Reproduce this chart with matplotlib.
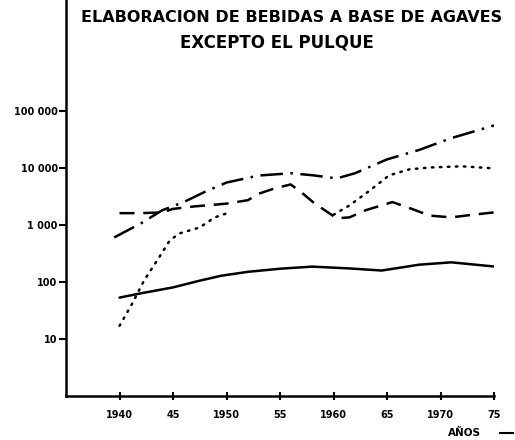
import numpy as np
import matplotlib
matplotlib.use("Agg")
import matplotlib.pyplot as plt

# ---- data ----
title_l1 = "ELABORACION DE BEBIDAS A BASE DE AGAVES"
title_l2 = "EXCEPTO EL PULQUE"
xlabel = "AÑOS"

x_ticks = [1940, 1945, 1950, 1955, 1960, 1965, 1970, 1975]
x_ticklabels = ["1940", "45", "1950", "55", "1960", "65", "1970", "75"]
y_ticks = [10, 100, 1000, 10000, 100000]
y_ticklabels = ["10", "100", "1 000", "10 000", "100 000"]

solid_years = [1940, 1942, 1945, 1947.5, 1949.5, 1952, 1955, 1958, 1961.5, 1964.5, 1968, 1971, 1975]
solid_vals = [53, 63, 80, 105, 128, 150, 170, 185, 172, 158, 200, 220, 186]

dashdot_years = [1939.5, 1942, 1944, 1946, 1948, 1950, 1953, 1956, 1958, 1960.3, 1962, 1965, 1968, 1971, 1975]
dashdot_vals = [600, 1060, 1800, 2500, 3800, 5500, 7300, 8000, 7400, 6500, 8000, 14000, 20500, 33000, 55000]

dashed_years = [1940, 1942, 1944, 1945, 1947, 1950, 1952, 1953, 1954.5, 1956, 1957, 1958.2, 1960.3, 1961.5, 1963, 1965.5, 1967, 1969, 1971, 1973, 1975]
dashed_vals = [1600, 1600, 1650, 1900, 2100, 2350, 2700, 3500, 4350, 5100, 3700, 2400, 1300, 1350, 1800, 2500, 2000, 1450, 1350, 1500, 1650]

dotted_years = [1940, 1941.2, 1942.3, 1943.7, 1944.7, 1945.6, 1947.5, 1948.9, 1950.3, 1955, 1960, 1961.5, 1963.4, 1965.2, 1967.1, 1969, 1972, 1975]
dotted_vals = [17, 42, 106, 268, 533, 706, 900, 1350, 1650, np.nan, 1500, 2190, 4000, 7360, 9380, 10100, 10600, 9750]

# ---- figure ----
fig = plt.figure(figsize=(5.15, 4.4), dpi=100)
ax = fig.add_axes([66/515, 1 - 396/440, (494 - 66)/515, 396/440])

lw = 1.8
ax.plot(solid_years, solid_vals, color="black", lw=lw, solid_capstyle="round")
ax.plot(dashdot_years, dashdot_vals, color="black", lw=lw, linestyle=(0, (9, 3, 1, 3)))
ax.plot(dashed_years, dashed_vals, color="black", lw=lw, linestyle=(0, (6, 3.5)))
ax.plot(dotted_years, dotted_vals, color="black", lw=lw, linestyle=(0, (0.6, 2.6)),
        dash_capstyle="round")

ax.set_yscale("log")
ax.set_xlim(1935, 1975)
ax.set_ylim(1.0, 8.7e6)

ax.set_yticks(y_ticks)
ax.set_yticklabels(y_ticklabels)
ax.yaxis.set_minor_locator(matplotlib.ticker.NullLocator())
ax.set_xticks(x_ticks)
ax.set_xticklabels(x_ticklabels)

for s in ["top", "right"]:
    ax.spines[s].set_visible(False)
for s in ["left", "bottom"]:
    ax.spines[s].set_linewidth(1.8)

ax.tick_params(axis="y", direction="out", length=5, width=1.5, pad=1, labelsize=7)
ax.tick_params(axis="x", direction="inout", length=6, width=1.5, pad=7, labelsize=7)
for lab in ax.get_xticklabels() + ax.get_yticklabels():
    lab.set_fontweight("bold")

fig.text(292/515, 1 - 17/440, title_l1, ha="center", va="center",
         fontsize=11.5, fontweight="bold")
fig.text(277/515, 1 - 42/440, title_l2, ha="center", va="center",
         fontsize=12, fontweight="bold")
fig.text(464/515, 1 - 433/440, xlabel, ha="center", va="center",
         fontsize=7.5, fontweight="bold")
fig.add_artist(matplotlib.lines.Line2D([500/515, 513/515], [1 - 433/440, 1 - 433/440],
                                        color="black", lw=1.5))

fig.savefig("out.png", dpi=100)
